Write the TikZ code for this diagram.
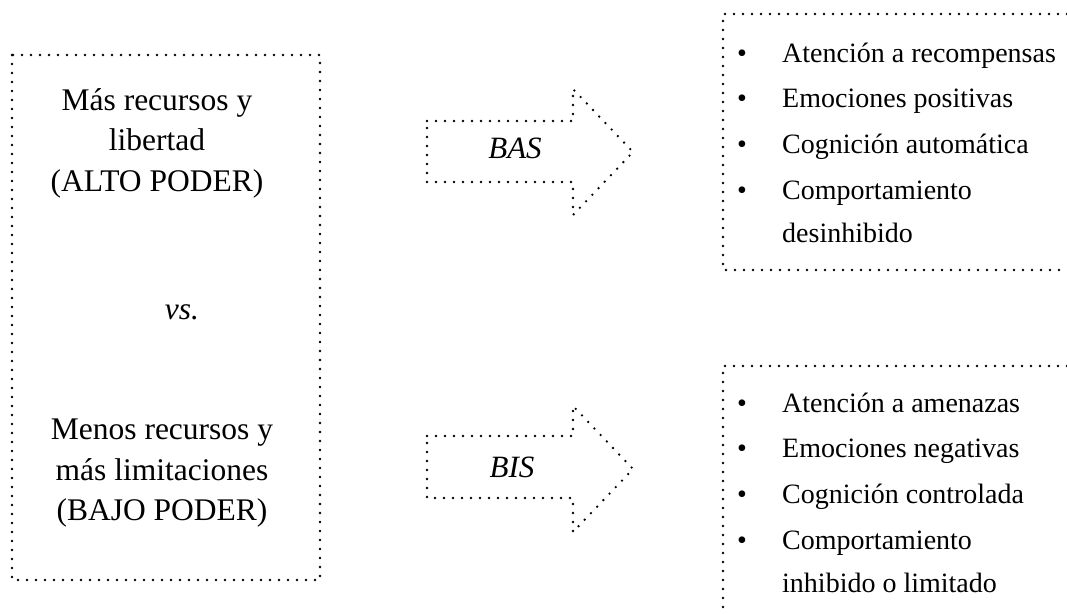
\documentclass[tikz,border=0pt]{standalone}
\usepackage{fontspec}
\setmainfont{Liberation Serif}
\begin{document}
\begin{tikzpicture}[x=1pt,y=-1pt,
  dotline/.style={line width=2.6pt, line cap=round, dash pattern=on 0pt off 9pt},
  big/.style={font=\fontsize{31.5}{40}\selectfont, anchor=base, inner sep=0pt},
  item/.style={font=\fontsize{28}{34}\selectfont, anchor=base west, inner sep=0pt},
  bul/.style={font=\fontsize{28}{34}\selectfont, anchor=base, inner sep=0pt},
  lab/.style={font=\fontsize{31}{36}\selectfont\itshape, anchor=base, inner sep=0pt}]
\useasboundingbox (0,0) rectangle (1067,614);

% power box on the left
\coordinate (pbA) at (12,55);
\coordinate (pbB) at (320,580);
\draw[dotline] (pbA) rectangle (pbB);
\node[big] (hi1) at (157,110) {Más recursos y};
\node[big] (hi2) at (157,150) {libertad};
\node[big] (hi3) at (157,191) {(ALTO PODER)};
\node[big] (vs) at (182,319) {\itshape vs.};
\node[big] (lo1) at (162,439) {Menos recursos y};
\node[big] (lo2) at (162,480) {más limitaciones};
\node[big] (lo3) at (162,520) {(BAJO PODER)};

% block arrows
\draw[dotline] (427,121) -- (573,121) -- (573,89) -- (633,152) -- (573,215)
  -- (573,182) -- (427,182) -- cycle;
\node[lab] (bas) at (515,158) {BAS};
\draw[dotline] (427,436) -- (573,436) -- (573,406) -- (633,469) -- (573,532)
  -- (573,498) -- (427,498) -- cycle;
\node[lab] (bis) at (512,477) {BIS};

% approach outcomes
\coordinate (apA) at (1067,14);
\coordinate (apB) at (723,14);
\coordinate (apC) at (723,270);
\coordinate (apD) at (1067,270);
\draw[dotline] (apA) -- (apB) -- (apC) -- (apD);
\node[bul] (ab1) at (742,62) {•};
\node[bul] (ab2) at (742,107) {•};
\node[bul] (ab3) at (742,153) {•};
\node[bul] (ab4) at (742,199) {•};
\node[item] (at1) at (782,62) {Atención a recompensas};
\node[item] (at2) at (782,107) {Emociones positivas};
\node[item] (at3) at (782,153) {Cognición automática};
\node[item] (at4) at (782,199) {Comportamiento};
\node[item] (at5) at (782,242) {desinhibido};

% inhibition outcomes
\coordinate (inA) at (1067,366);
\coordinate (inB) at (723,366);
\coordinate (inC) at (723,614);
\draw[dotline] (inA) -- (inB) -- (inC);
\node[bul] (ib1) at (742,412) {•};
\node[bul] (ib2) at (742,457) {•};
\node[bul] (ib3) at (742,503) {•};
\node[bul] (ib4) at (742,549) {•};
\node[item] (it1) at (782,412) {Atención a amenazas};
\node[item] (it2) at (782,457) {Emociones negativas};
\node[item] (it3) at (782,503) {Cognición controlada};
\node[item] (it4) at (782,549) {Comportamiento};
\node[item] (it5) at (782,592) {inhibido o limitado};
\end{tikzpicture}
\end{document}
